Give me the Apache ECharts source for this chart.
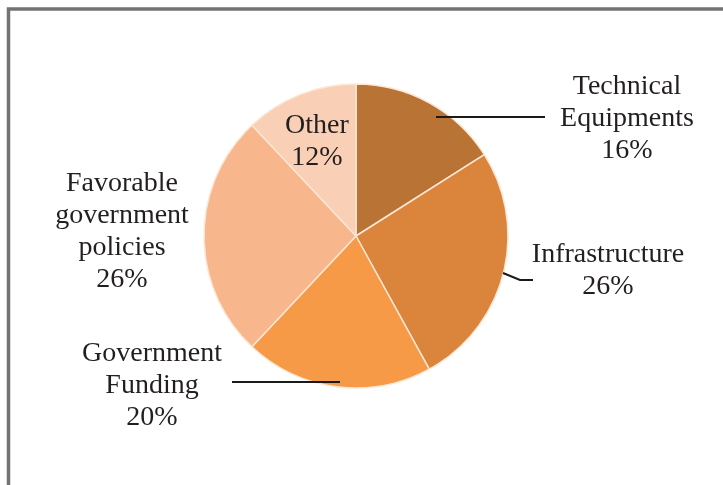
<!DOCTYPE html>
<html>
<head>
<meta charset="utf-8">
<script src="https://cdn.jsdelivr.net/npm/echarts@6/dist/echarts.min.js"></script>
<style>
  html, body { margin: 0; padding: 0; background: #ffffff; }
  #chart { width: 723px; height: 485px; }
</style>
</head>
<body>
<div id="chart"></div>
<script>
// Share of factors, clockwise from 12 o'clock
const categories = ['Technical\nEquipments', 'Infrastructure', 'Government\nFunding', 'Favorable\ngovernment\npolicies', 'Other'];
const shares = [16, 26, 20, 26, 12];
const sliceColors = ['#b97334', '#db843b', '#f69a47', '#f8b68c', '#f9cfb6'];

// Where each label block sits (centre) and its leader line, if any
const labelSpots = [
  { x: 627, y: 119, line: [[436, 117], [545, 117]] },
  { x: 608, y: 271, line: [[503, 273], [520, 280], [533, 280]] },
  { x: 152, y: 386, line: [[340, 382], [232, 382]] },
  { x: 122, y: 232, line: null },
  { x: 317, y: 142, line: null }
];

const chart = echarts.init(document.getElementById('chart'), null, { renderer: 'canvas' });

const data = categories.map((name, i) => ({
  name: name,
  value: shares[i],
  itemStyle: { color: sliceColors[i] }
}));

// Leader lines are drawn on top of the slices so they can reach inside them
const leaderLines = labelSpots.filter(s => s.line).map(s => ({
  type: 'polyline',
  z: 100,
  silent: true,
  shape: { points: s.line },
  style: { stroke: '#1a1a1a', lineWidth: 2, fill: 'none' }
}));

chart.setOption({
  animation: false,
  graphic: [{
    type: 'rect',
    shape: { x: 8.5, y: 9, width: 900, height: 700 },
    style: { fill: 'none', stroke: '#737373', lineWidth: 3.5 },
    silent: true
  }].concat(leaderLines),
  series: [{
    type: 'pie',
    center: [356, 236],
    radius: 152,
    startAngle: 90,
    clockwise: true,
    avoidLabelOverlap: false,
    itemStyle: { borderColor: '#fde6d4', borderWidth: 1.5 },
    label: {
      show: true,
      position: 'outside',
      formatter: p => p.name + '\n' + p.value + '%',
      fontFamily: '"Liberation Serif", "Times New Roman", serif',
      fontSize: 28,
      lineHeight: 32,
      color: '#231f20',
      align: 'center'
    },
    labelLine: { show: false },
    labelLayout: function (params) {
      const s = labelSpots[params.dataIndex];
      return { x: s.x, y: s.y, align: 'center', verticalAlign: 'middle' };
    },
    data: data
  }]
});
</script>
</body>
</html>
